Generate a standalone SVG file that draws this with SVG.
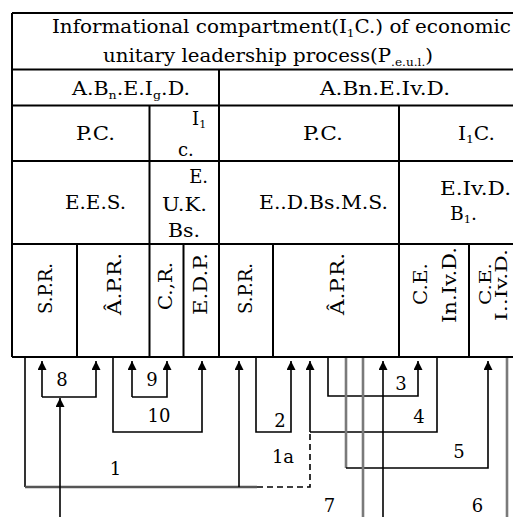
<svg xmlns="http://www.w3.org/2000/svg" width="513" height="517" viewBox="0 0 513 517">
<style>
text{font-family:"DejaVu Serif","Liberation Serif",serif;font-size:18px;fill:#000}
.s{font-size:11px}
.tl{fill:none;stroke:#000;stroke-width:2}
.c{fill:none;stroke:#000;stroke-width:1.6}
.g{fill:none;stroke:#7a7a7a;stroke-width:2.6}
.d{fill:none;stroke:#000;stroke-width:1.6;stroke-dasharray:6,4}
.lb{font-size:18px;text-anchor:middle}
.sm{font-size:16px}
</style>
<defs>
<marker id="ar" viewBox="0 0 10 10" refX="10" refY="5" markerWidth="10" markerHeight="9" markerUnits="userSpaceOnUse" orient="auto"><path d="M0,0 L10,5 L0,10 z" fill="#000"/></marker>
</defs>
<rect width="513" height="517" fill="#fff"/>
<g id="table">
<path class="tl" d="M12,13 H513 M12,69.5 H513 M12,105.5 H513 M12,161 H513 M12,244 H513 M12,357 H513 M12,13 V357 M219,69.5 V357 M149.5,105.5 V357 M399,105.5 V357 M77,244 V357 M183.5,244 V357 M273,244 V357 M469,244 V357"/>
</g>
<g id="title">
<text x="52" y="33" textLength="459" lengthAdjust="spacingAndGlyphs">Informational compartment(I<tspan class="s" dy="4">1</tspan><tspan dy="-4">C.) of economic</tspan></text>
<text x="103" y="62" textLength="330" lengthAdjust="spacingAndGlyphs">unitary leadership process(P<tspan class="s" dy="4">.e.u.l.</tspan><tspan dy="-4">)</tspan></text>
</g>
<g id="row2">
<text x="72" y="95" textLength="118" lengthAdjust="spacingAndGlyphs">A.B<tspan class="s" dy="4">n</tspan><tspan dy="-4">.E.I</tspan><tspan class="s" dy="4">g</tspan><tspan dy="-4">.D.</tspan></text>
<text x="320" y="95" textLength="130" lengthAdjust="spacingAndGlyphs">A.Bn.E.Iv.D.</text>
</g>
<g id="row3">
<text x="76" y="140" textLength="39" lengthAdjust="spacingAndGlyphs">P.C.</text>
<text x="192" y="125">I<tspan class="s" dy="3">1</tspan></text>
<text x="178" y="156">c.</text>
<text x="303" y="140" textLength="40" lengthAdjust="spacingAndGlyphs">P.C.</text>
<text x="458" y="140" textLength="37" lengthAdjust="spacingAndGlyphs">I<tspan class="s" dy="3">1</tspan><tspan dy="-3">C.</tspan></text>
</g>
<g id="row4">
<text x="65" y="209" textLength="61" lengthAdjust="spacingAndGlyphs">E.E.S.</text>
<text x="208" y="183" text-anchor="end">E.</text>
<text x="162" y="211" textLength="45" lengthAdjust="spacingAndGlyphs">U.K.</text>
<text x="168" y="237" textLength="32" lengthAdjust="spacingAndGlyphs">Bs.</text>
<text x="259" y="209" textLength="129" lengthAdjust="spacingAndGlyphs">E..D.Bs.M.S.</text>
<text x="440" y="195" textLength="71" lengthAdjust="spacingAndGlyphs">E.Iv.D.</text>
<text x="450" y="220" textLength="27" lengthAdjust="spacingAndGlyphs">B<tspan class="s" dy="3">1</tspan><tspan dy="-3">.</tspan></text>
</g>
<g id="row5">
<text transform="translate(52,288.5) rotate(-90)" text-anchor="middle" textLength="51" lengthAdjust="spacingAndGlyphs">S.P.R.</text>
<text transform="translate(121,284) rotate(-90)" text-anchor="middle" textLength="62" lengthAdjust="spacingAndGlyphs">Â.P.R.</text>
<text transform="translate(172,286) rotate(-90)" text-anchor="middle" textLength="48" lengthAdjust="spacingAndGlyphs">C.,R.</text>
<text transform="translate(207,284) rotate(-90)" text-anchor="middle" textLength="62" lengthAdjust="spacingAndGlyphs">E.D.P.</text>
<text transform="translate(252,288.5) rotate(-90)" text-anchor="middle" textLength="51" lengthAdjust="spacingAndGlyphs">S.P.R.</text>
<text transform="translate(344,284) rotate(-90)" text-anchor="middle" textLength="62" lengthAdjust="spacingAndGlyphs">Â.P.R.</text>
<text transform="translate(427,284) rotate(-90)" text-anchor="middle" textLength="42" lengthAdjust="spacingAndGlyphs">C.E.</text>
<text transform="translate(456,285) rotate(-90)" text-anchor="middle" textLength="76" lengthAdjust="spacingAndGlyphs">In.Iv.D.</text>
<text class="sm" transform="translate(491,284) rotate(-90)" text-anchor="middle" textLength="42" lengthAdjust="spacingAndGlyphs">C.E.</text>
<text class="sm" transform="translate(507,285) rotate(-90)" text-anchor="middle" textLength="72" lengthAdjust="spacingAndGlyphs">I..Iv.D.</text>
</g>
<g id="connectors">
<path class="c" d="M25,358 V487"/>
<path class="g" d="M25,487 H257" style="stroke:#555;stroke-width:2.4"/>
<path class="c" d="M239,487 V361" marker-end="url(#ar)"/>
<path class="d" d="M257,487 H310 V432"/>
<path class="c" d="M310,432 V361" marker-end="url(#ar)"/>
<path class="c" d="M42,397 V361" marker-end="url(#ar)"/>
<path class="c" d="M42,397 H96 V361" marker-end="url(#ar)"/>
<path class="c" d="M60,517 V398" marker-end="url(#ar)"/>
<path class="c" d="M132,397 V361" marker-end="url(#ar)"/>
<path class="c" d="M132,397 H167 V361" marker-end="url(#ar)"/>
<path class="c" d="M113,358 V432 H202 V361" marker-end="url(#ar)"/>
<path class="c" d="M256,358 V432 H291 V361" marker-end="url(#ar)"/>
<path class="c" d="M437,358 V432 H310"/>
<path class="c" d="M328,358 V396 H418 V361" marker-end="url(#ar)"/>
<path class="g" d="M346,358 V468"/>
<path class="c" d="M346,468 H488 V361" marker-end="url(#ar)"/>
<path class="g" d="M363,358 V517"/>
<path class="c" d="M383,517 V361" marker-end="url(#ar)"/>
<path class="g" d="M507,358 V517"/>
</g>
<g id="labels">
<text class="lb" x="62" y="386">8</text>
<text class="lb" x="152" y="386">9</text>
<text class="lb" x="159" y="422">10</text>
<text class="lb" x="115.5" y="475">1</text>
<text class="lb" x="280" y="427">2</text>
<text class="lb" x="283" y="463">1a</text>
<text class="lb" x="329.5" y="512">7</text>
<text class="lb" x="401" y="390">3</text>
<text class="lb" x="419" y="423">4</text>
<text class="lb" x="459" y="458">5</text>
<text class="lb" x="477.5" y="512">6</text>
</g>
</svg>
